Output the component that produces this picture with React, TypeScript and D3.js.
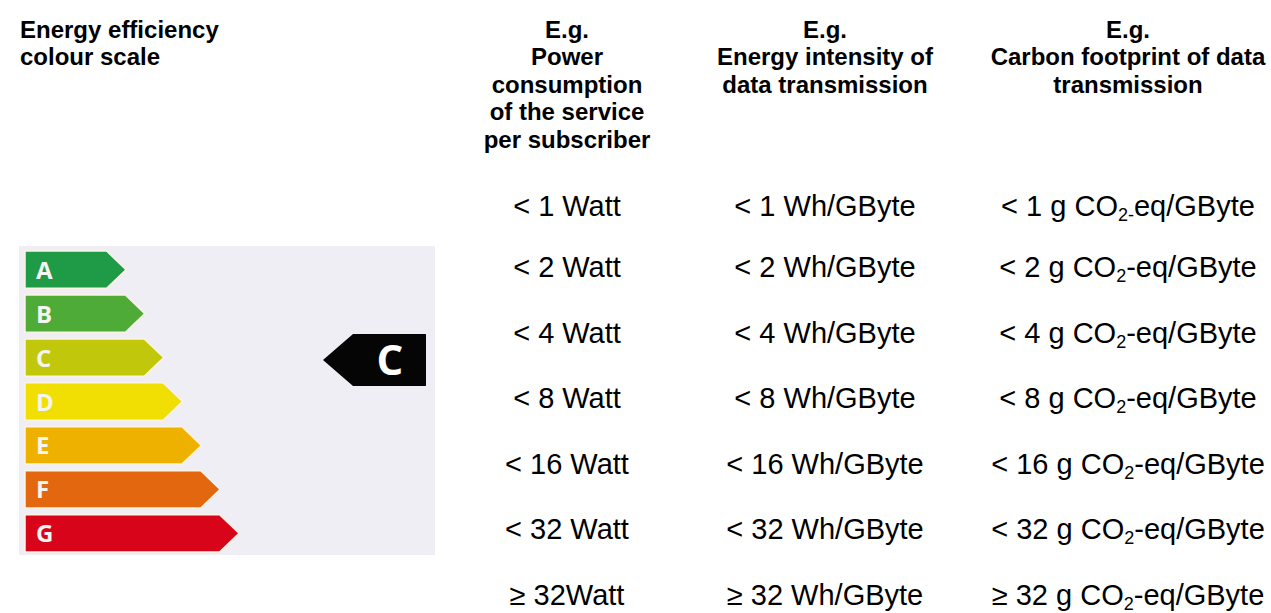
import React from "react";
import * as d3 from "d3";

const grades = ["A", "B", "C", "D", "E", "F", "G"];
const gradeColors = ["#1f9a47", "#4eab37", "#c1c80c", "#f1df03", "#efb100", "#e3670f", "#d8041a"];
const gradeLength = [1, 2, 3, 4, 5, 6, 7];
const currentGrade = "C";

const headerCol1 = ["Energy efficiency", "colour scale"];
const headerCol2 = ["E.g.", "Power", "consumption", "of the service", "per subscriber"];
const headerCol3 = ["E.g.", "Energy intensity of", "data transmission"];
const headerCol4 = ["E.g.", "Carbon footprint of data", "transmission"];

const thresholds = ["< 1", "< 2", "< 4", "< 8", "< 16", "< 32", "≥ 32"];
const powerLabels = ["< 1 Watt", "< 2 Watt", "< 4 Watt", "< 8 Watt", "< 16 Watt", "< 32 Watt", "≥ 32Watt"];
const intensityUnit = "Wh/GByte";
const carbonUnitPre = "g CO";
const carbonUnitSub = "2";
const carbonUnitPost = "-eq/GByte";

const W = 1271;
const H = 613;
const FONT = "'Liberation Sans', Arial, sans-serif";

export default function App() {
  const img = { x0: 19, x1: 435, y0: 246, y1: 555 };
  const yBand = d3.scaleBand<string>().domain(grades).range([251, 552]).paddingInner(0.15).paddingOuter(0);
  const xLen = d3.scaleLinear().domain([1, 7]).range([126, 239]);
  const barLeft = 25;

  const rowY = d3.scaleLinear().domain([1, 6]).range([267, 595]);
  const rowCenter = (i: number) => (i === 0 ? 206 : rowY(i));

  const colX = [20, 567, 825, 1128];
  const headLine = d3.scaleLinear().domain([0, 1]).range([37.5, 65]);

  const headers = [headerCol2, headerCol3, headerCol4];
  const arrowCY = 360;

  return (
    <svg width={W} height={H} style={{ display: "block", position: "absolute", left: 0, top: 0 }}>
      <rect x={0} y={0} width={W} height={H} fill="#ffffff" />
      {headerCol1.map((t, i) => (
        <text key={"h1" + i} x={colX[0]} y={headLine(i)} fontFamily={FONT} fontWeight="bold" fontSize={24} fill="#000">
          {t}
        </text>
      ))}
      {headers.map((lines, c) =>
        lines.map((t, i) => (
          <text
            key={"h" + c + "_" + i}
            x={colX[c + 1]}
            y={headLine(i)}
            textAnchor="middle"
            fontFamily={FONT}
            fontWeight="bold"
            fontSize={24}
            fill="#000"
          >
            {t}
          </text>
        ))
      )}

      <rect x={img.x0} y={img.y0} width={img.x1 - img.x0} height={img.y1 - img.y0} fill="#eeeef4" />
      {grades.map((g, i) => {
        const y0 = yBand(g)!;
        const h = yBand.bandwidth();
        const tip = xLen(gradeLength[i]);
        const rEnd = tip - h * 0.52;
        const pts = [
          [barLeft, y0],
          [rEnd, y0],
          [tip, y0 + h / 2],
          [rEnd, y0 + h],
          [barLeft, y0 + h],
        ];
        return (
          <g key={g}>
            <polygon points={pts.map((p) => p.join(",")).join(" ")} fill={gradeColors[i]} stroke="#fbf3e4" strokeWidth={1.5} />
            <text
              x={barLeft + 11}
              y={y0 + h / 2 + 9}
              fontFamily="'Open Sans', sans-serif"
              fontWeight="bold"
              fontSize={24}
              fill="#f4f4f0"
            >
              {g}
            </text>
          </g>
        );
      })}
      {(() => {
        const h = 52;
        const y0 = arrowCY - h / 2;
        const xr = 426;
        const xl = 353;
        const tipX = 323;
        const pts = [
          [xl, y0],
          [xr, y0],
          [xr, y0 + h],
          [xl, y0 + h],
          [tipX, arrowCY],
        ];
        return (
          <g>
            <polygon points={pts.map((p) => p.join(",")).join(" ")} fill="#050505" />
            <text x={390} y={arrowCY + 15} textAnchor="middle" fontFamily="'Open Sans', sans-serif" fontWeight="bold" fontSize={42} fill="#fff">
              {currentGrade}
            </text>
          </g>
        );
      })()}

      {thresholds.map((t, i) => {
        const yb = rowCenter(i) + 10;
        return (
          <g key={"r" + i}>
            <text x={colX[1]} y={yb} textAnchor="middle" fontFamily={FONT} fontSize={29} fill="#000">
              {powerLabels[i]}
            </text>
            <text x={colX[2]} y={yb} textAnchor="middle" fontFamily={FONT} fontSize={29} fill="#000">
              {t + " " + intensityUnit}
            </text>
            <text x={colX[3]} y={yb} textAnchor="middle" fontFamily={FONT} fontSize={29} fill="#000">
              {t + " " + carbonUnitPre}
              {i === 0 ? (
                <>
                  <tspan fontSize={18} dy={5}>{carbonUnitSub + "-"}</tspan>
                  <tspan dy={-5}>{carbonUnitPost.slice(1)}</tspan>
                </>
              ) : (
                <>
                  <tspan fontSize={18} dy={5}>{carbonUnitSub}</tspan>
                  <tspan dy={-5}>{carbonUnitPost}</tspan>
                </>
              )}
            </text>
          </g>
        );
      })}
    </svg>
  );
}
